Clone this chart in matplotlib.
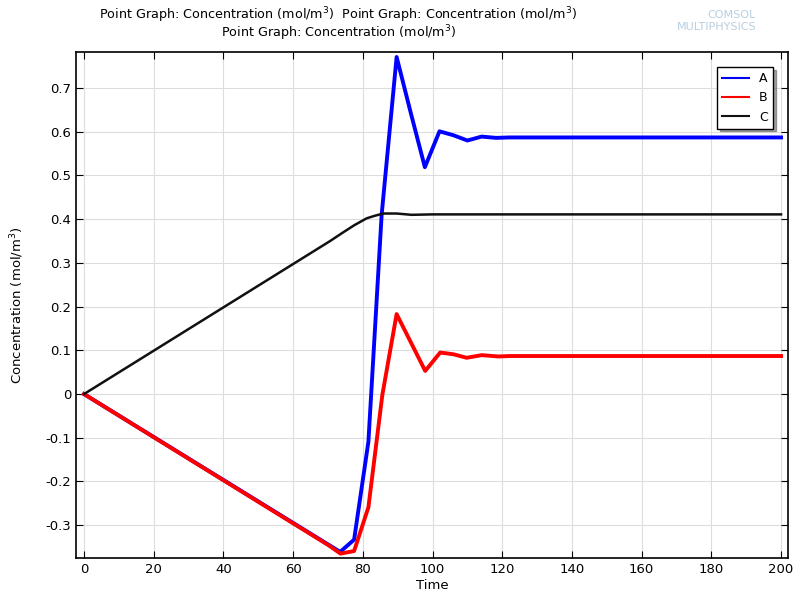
import numpy as np
import matplotlib
matplotlib.use('Agg')
import matplotlib.pyplot as plt

# time points and concentrations
t_a = [0, 73.5, 77.5, 81.6, 85.4, 89.7, 93.7, 97.8, 102.0, 106.0, 110.0, 114.1, 118.2, 122, 200]
a = [0, -0.361, -0.333, -0.109, 0.41, 0.771, 0.645, 0.519, 0.601, 0.592, 0.580, 0.589, 0.586, 0.587, 0.587]

t_b = [0, 70, 73.6, 77.5, 81.6, 85.6, 89.7, 93.8, 97.9, 102.2, 106.0, 109.8, 114.1, 118.9, 122, 200]
b = [0, -0.345, -0.365, -0.359, -0.259, -0.002, 0.183, 0.118, 0.053, 0.095, 0.091, 0.083, 0.089, 0.086, 0.087, 0.087]

t_c = [0, 70.6, 74, 77.5, 81.1, 83.5, 85.9, 89.7, 94.0, 100, 200]
c = [0, 0.350, 0.368, 0.386, 0.402, 0.408, 0.413, 0.413, 0.410, 0.411, 0.411]

fig = plt.figure(figsize=(8, 6), dpi=100)
ax = fig.add_axes([0.095, 0.07, 0.89, 0.843])

ax.plot(t_a, a, color='#0000ff', lw=2.8, label='A')
ax.plot(t_b, b, color='#ff0000', lw=2.8, label='B')
ax.plot(t_c, c, color='#111111', lw=1.8, label='C')

ax.set_xlim(-2.3, 202)
ax.set_ylim(-0.375, 0.782)
ax.set_xticks(np.arange(0, 201, 20))
ax.set_yticks(np.arange(-0.3, 0.71, 0.1))
ax.set_yticklabels(['-0.3', '-0.2', '-0.1', '0', '0.1', '0.2', '0.3', '0.4', '0.5', '0.6', '0.7'])
ax.grid(True, color='#dddddd', lw=0.8)
ax.tick_params(direction='in', top=True, right=True, labelsize=9.5, length=5)
for s in ax.spines.values():
    s.set_linewidth(1.2)

ax.set_xlabel('Time', fontsize=9.5, labelpad=2)
ax.set_ylabel('Concentration (mol/m$^3$)', fontsize=9.5, labelpad=14)

leg = ax.legend(loc='upper right', fontsize=9, shadow=True, fancybox=False,
                edgecolor='black', framealpha=1, handlelength=2.2,
                borderaxespad=1.2)
leg.get_frame().set_linewidth(1.0)
for ln in leg.get_lines():
    ln.set_linewidth(1.5)

fig.text(0.423, 0.975, 'Point Graph: Concentration (mol/m$^3$)  Point Graph: Concentration (mol/m$^3$)',
         ha='center', va='center', fontsize=9.2)
fig.text(0.423, 0.945, 'Point Graph: Concentration (mol/m$^3$)',
         ha='center', va='center', fontsize=9.2)

fig.text(0.945, 0.975, 'COMSOL', ha='right', va='center', fontsize=8, color='#b8cfe0')
fig.text(0.945, 0.955, 'MULTIPHYSICS', ha='right', va='center', fontsize=8, color='#b8cfe0')

fig.savefig('out.png', dpi=100)
